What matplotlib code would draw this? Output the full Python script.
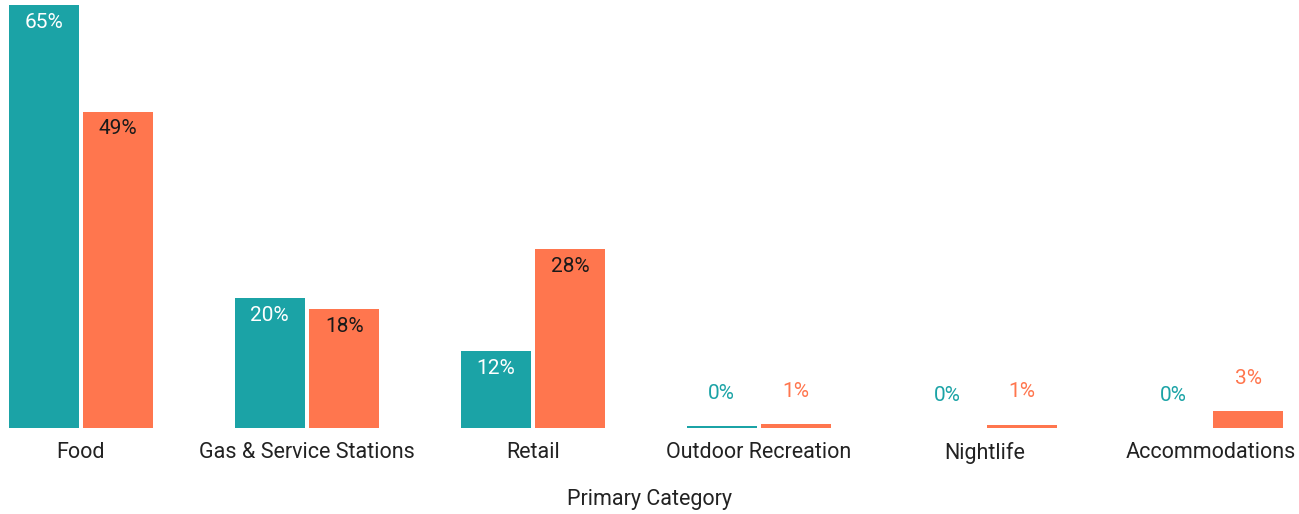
import matplotlib
matplotlib.use('Agg')
import matplotlib.pyplot as plt
import numpy as np

plt.rcParams['font.family'] = ['Roboto', 'DejaVu Sans']

categories = ['Food', 'Gas & Service Stations', 'Retail', 'Outdoor Recreation', 'Nightlife', 'Accommodations']
teal_vals = [65, 20, 11.8, 0.3, 0, 0]
orange_vals = [48.6, 18.3, 27.5, 0.6, 0.5, 2.6]
teal_labels = ['65%', '20%', '12%', '0%', '0%', '0%']
orange_labels = ['49%', '18%', '28%', '1%', '1%', '3%']

teal = '#1ba3a6'
orange = '#ff764e'

fig = plt.figure(figsize=(12.99, 5.14), dpi=100)
ax = fig.add_axes([0, 0.167, 1, 0.823])

x = np.arange(len(categories))
w = 0.31
off = 0.165
b1 = ax.bar(x - off, teal_vals, w, color=teal)
b2 = ax.bar(x + off, orange_vals, w, color=orange)

#labels inside tall bars, above short ones
def label(bars, texts, inside_color, outside_color):
	for bar, t in zip(bars, texts):
		h = bar.get_height()
		cx = bar.get_x() + bar.get_width()/2
		if h > 5:
			ax.annotate(t, (cx, h), xytext=(0, -17), textcoords='offset pixels',
						ha='center', va='center', fontsize=15, color=inside_color)
		else:
			ax.annotate(t, (cx, h), xytext=(0, 33), textcoords='offset pixels',
						ha='center', va='center', fontsize=15, color=outside_color)

label(b1, teal_labels, 'white', teal)
label(b2, orange_labels, '#1a1a1a', orange)

ax.set_xlim(-0.358, 5.39)
ax.set_ylim(0, 65)
ax.set_xticks(x)
ax.set_xticklabels(categories, fontsize=15.5, color='#222222')
ax.tick_params(axis='x', length=0, pad=10)
ax.set_yticks([])
for s in ax.spines.values():
	s.set_visible(False)
fig.text(0.5, 14/514, 'Primary Category', fontsize=15.5, color='#222222',
		 ha='center', va='center')

plt.savefig('out.png', dpi=100)
